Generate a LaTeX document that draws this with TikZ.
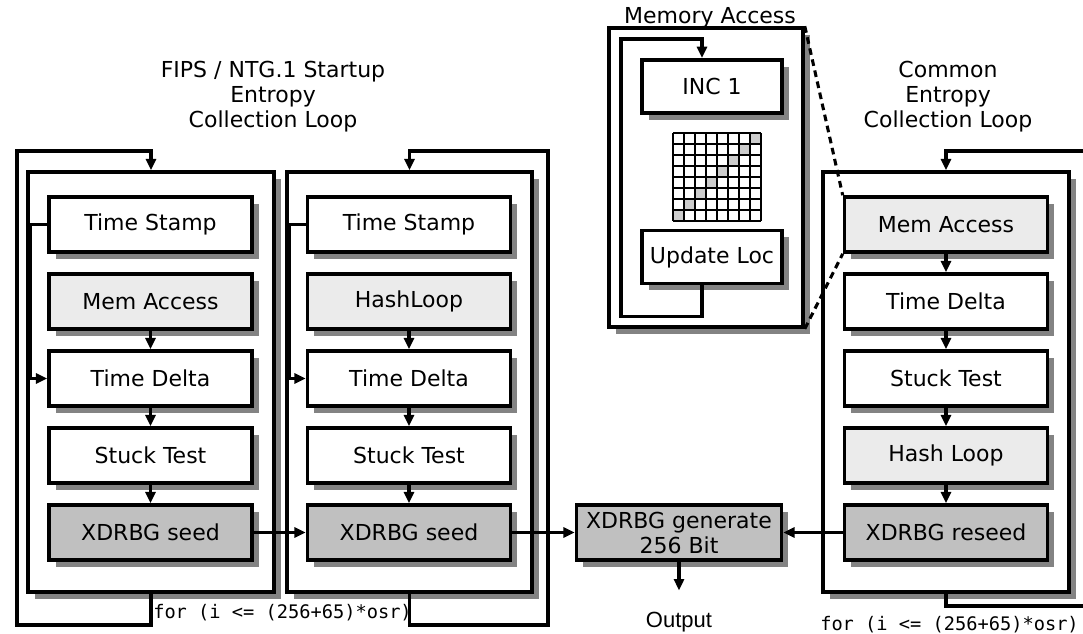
\documentclass[tikz,border=0pt]{standalone}
\usepackage{fontspec}
\setmainfont{DejaVu Sans}
\setmonofont{DejaVu Sans Mono}
\newfontfamily\outfont{Liberation Sans}
\usepackage{tikz}
\usetikzlibrary{arrows.meta,shadows}
\definecolor{lightfill}{HTML}{EBEBEB}
\definecolor{seedfill}{HTML}{C0C0C0}
\definecolor{shadowgray}{HTML}{838383}
\definecolor{cellgray}{HTML}{CCCCCC}

\begin{document}
\begin{tikzpicture}[x=0.75pt,y=-0.75pt,>={Triangle[length=8.5pt,width=7.5pt]}]
\tikzstyle{every node}=[font=\fontsize{16.5}{18.75}\selectfont];
\tikzstyle{shadowed}=[drop shadow={shadow xshift=5pt,shadow yshift=-5pt,fill=shadowgray,opacity=1}];
\tikzstyle{loopbox}=[draw,fill=white,line width=2.7pt,minimum width=184.5pt,minimum height=315pt,shadowed];
\tikzstyle{blk}=[draw,fill=white,line width=2.7pt,minimum width=152.25pt,minimum height=41.25pt,inner sep=2pt,shadowed];
\tikzstyle{memblk}=[blk,fill=lightfill];
\tikzstyle{seedblk}=[blk,fill=seedfill];
\tikzstyle{smallblk}=[blk,minimum width=105pt,minimum height=40pt];
\tikzstyle{conn}=[line width=2.3pt];
\tikzstyle{memlink}=[line width=2.3pt,dash pattern=on 5pt off 3.5pt];
\tikzstyle{cond}=[font=\ttfamily\fontsize{14}{16}\selectfont,inner sep=0pt,anchor=base west];
\useasboundingbox (0,0) rectangle (1083,633);
% titles
    \node (title1) [align=center] at (273,97) {FIPS / NTG.1 Startup\\Entropy\\Collection Loop};
    \node (title3) [align=center] at (948,97) {Common\\Entropy\\Collection Loop};
    \node (memtitle) [anchor=base,inner sep=0pt] at (710,23) {Memory Access};
% startup loop 1
%   nodes
    \node (loop1) [loopbox] at (151,382) {};
    \node (ts1) [blk] at (150.5,224.5) {Time Stamp};
    \node (ma1) [memblk] at (150.5,301.5) {Mem Access};
    \node (td1) [blk] at (150.5,378.5) {Time Delta};
    \node (st1) [blk] at (150.5,455.5) {Stuck Test};
    \node (seed1) [seedblk] at (150.5,532.5) {XDRBG seed};
%   edges
    \draw[conn,->] (ma1) -- (td1);
    \draw[conn,->] (td1) -- (st1);
    \draw[conn,->] (st1) -- (seed1);
    \draw[conn,->] (ts1.west) -- ++(-17,0) |- (td1.west);
    \draw[conn,->] (loop1.south) -- (151,625) -| (17,151) -| (loop1.north);
% startup loop 2
%   nodes
    \node (loop2) [loopbox,minimum width=183.75pt] at (409.5,382) {};
    \node (ts2) [blk] at (409,224.5) {Time Stamp};
    \node (hl2) [memblk] at (409,301.5) {HashLoop};
    \node (td2) [blk] at (409,378.5) {Time Delta};
    \node (st2) [blk] at (409,455.5) {Stuck Test};
    \node (seed2) [seedblk] at (409,532.5) {XDRBG seed};
%   edges
    \draw[conn,->] (hl2) -- (td2);
    \draw[conn,->] (td2) -- (st2);
    \draw[conn,->] (st2) -- (seed2);
    \draw[conn,->] (ts2.west) -- ++(-16,0) |- (td2.west);
    \draw[conn,->] (loop2.south) -- (409.5,625) -| (548,151) -| (loop2.north);
    \draw[conn,->] (seed1) -- (seed2);
    \node (cond1) [cond] at (153,618) {for (i <= (256+65)*osr)};
% generate
    \node (gen) [seedblk,minimum width=153.75pt,align=center,inner sep=1pt] at (679,532.5) {XDRBG generate\\256 Bit};
    \node (out) [font=\outfont\fontsize{16.5}{19}\selectfont,anchor=base,inner sep=0pt] at (679,627) {Output};
    \draw[conn,->] (seed2) -- (gen);
    \draw[conn,->] (gen.south) -- ([yshift=15.75pt]out.north);
% common loop
%   nodes
    \node (loop3) [loopbox] at (946,382) {};
    \node (ma3) [memblk] at (946,224.5) {Mem Access};
    \node (td3) [blk] at (946,301.5) {Time Delta};
    \node (st3) [blk] at (946,378.5) {Stuck Test};
    \node (hl3) [memblk] at (946,455.5) {Hash Loop};
    \node (reseed3) [seedblk] at (946,532.5) {XDRBG reseed};
    \coordinate (edgetop) at (1083,151);
    \coordinate (edgebot) at (1083,606);
%   edges
    \draw[conn,->] (ma3) -- (td3);
    \draw[conn,->] (td3) -- (st3);
    \draw[conn,->] (st3) -- (hl3);
    \draw[conn,->] (hl3) -- (reseed3);
    \draw[conn,->] (reseed3) -- (gen);
    \draw[conn,->] (edgetop) -| (loop3.north);
    \draw[conn] (loop3.south) |- (edgebot);
    \node (cond3) [cond] at (820,630) {for (i <= (256+65)*osr)};
% memory access detail
    \node (membox) [loopbox,minimum width=145.5pt,minimum height=224.25pt] at (706,177.5) {};
    \node (inc) [smallblk] at (712,86.5) {INC 1};
    \node (upd) [smallblk] at (712,257) {Update Loc};
    \foreach \r in {0,...,7}
        \fill[cellgray] ({673+11*(7-\r)},{133+11*\r}) rectangle ++(11,11);
    \foreach \k in {0,...,8} {
        \draw[line width=2.2pt] ({673+11*\k},133) -- ({673+11*\k},221);
        \draw[line width=2.2pt] (673,{133+11*\k}) -- (761,{133+11*\k});
    }
    \draw[conn,->] ([xshift=-7.5pt]upd.south) -- ++(0,31) -| (621,39) -| ([xshift=-7.5pt]inc.north);
    \draw[memlink] (membox.north east) -- (ma3.north west);
    \draw[memlink] (membox.south east) -- (ma3.south west);
\end{tikzpicture}
\end{document}
